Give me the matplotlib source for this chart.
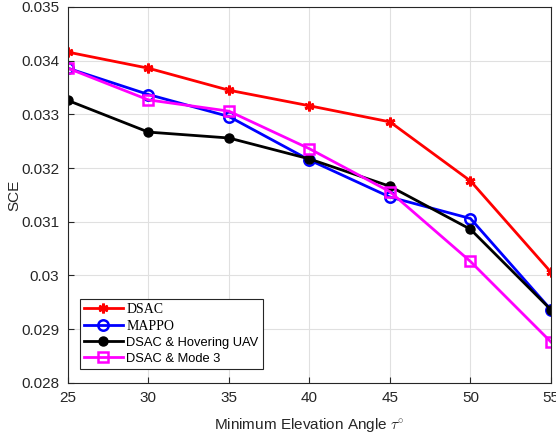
import matplotlib
matplotlib.use('Agg')
import matplotlib.pyplot as plt

# minimalni uhel elevace
tau = [25, 30, 35, 40, 45, 50, 55]

sce_dsac = [0.03416, 0.03386, 0.03345, 0.03316, 0.03286, 0.03176, 0.03006]
sce_mappo = [0.03386, 0.03337, 0.03296, 0.03215, 0.03146, 0.03106, 0.02936]
sce_hover = [0.03326, 0.03267, 0.03256, 0.03217, 0.03166, 0.03086, 0.02936]
sce_mode3 = [0.03386, 0.03327, 0.03306, 0.03236, 0.03156, 0.03026, 0.02876]

labels = ['DSAC', 'MAPPO', 'DSAC & Hovering UAV', 'DSAC & Mode 3']

plt.rcParams['font.family'] = ['Liberation Sans', 'DejaVu Sans']
plt.rcParams['mathtext.fontset'] = 'cm'

fig = plt.figure(figsize=(5.56, 4.37), dpi=100)
ax = fig.add_axes([0.122, 0.124, 0.869, 0.86])

lw = 2
ax.plot(tau, sce_dsac, color='red', lw=lw, marker=(6, 2, 0), ms=7, mew=2, label=labels[0])
ax.plot(tau, sce_mappo, color='blue', lw=lw, marker='o', ms=7.5, mew=1.8,
        mfc='none', label=labels[1])
ax.plot(tau, sce_hover, color='black', lw=lw, marker='o', ms=6.5, mfc='black', label=labels[2])
ax.plot(tau, sce_mode3, color='magenta', lw=lw, marker='s', ms=7, mew=1.8,
        mfc='none', label=labels[3])

ax.set_xlim(25, 55)
ax.set_ylim(0.028, 0.035)
ax.set_xticks(tau)
ax.set_yticks([0.028, 0.029, 0.03, 0.031, 0.032, 0.033, 0.034, 0.035])
ax.set_yticklabels(['0.028', '0.029', '0.03', '0.031', '0.032', '0.033', '0.034', '0.035'])
ax.grid(True, color='#e0e0e0', lw=0.8)
ax.set_axisbelow(True)
ax.tick_params(direction='in', labelsize=11, colors='#262626', length=4, pad=6)
for s in ax.spines.values():
    s.set_color('#262626')
    s.set_linewidth(0.8)

ax.set_xlabel(r'Minimum Elevation Angle $\tau^{\circ}$', fontsize=11, color='#262626',
              labelpad=8)
ax.set_ylabel('SCE', fontsize=11, color='#262626', labelpad=0)

leg = ax.legend(loc='lower left', bbox_to_anchor=(0.025, 0.038), fontsize=9.3,
                fancybox=False, edgecolor='#262626', framealpha=1,
                handlelength=3.0, borderpad=0.3, labelspacing=0.3, handletextpad=0.3,
                borderaxespad=0)
leg.get_frame().set_linewidth(0.8)
for i, t in enumerate(leg.get_texts()):
    if i < 2:
        t.set_family(['Liberation Serif', 'DejaVu Serif'])
        t.set_fontsize(10)

fig.savefig('out.png', dpi=100)
